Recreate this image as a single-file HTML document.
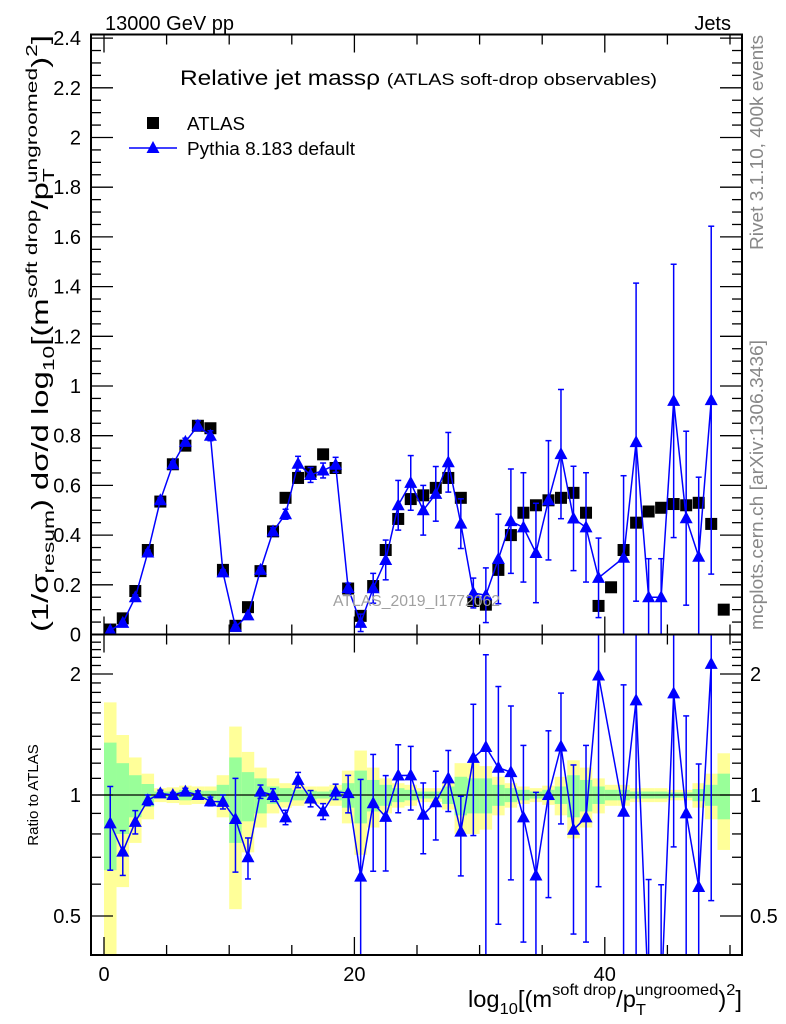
<!DOCTYPE html>
<html><head><meta charset="utf-8">
<style>
html,body{margin:0;padding:0;background:#fff;overflow:hidden;width:786px;height:1024px;}
svg{display:block;font-family:"Liberation Sans",Arial,sans-serif;}
</style></head>
<body>
<svg id="chart" width="786" height="1024" viewBox="0 0 786 1024" xmlns="http://www.w3.org/2000/svg">
<defs>
<clipPath id="clipMain"><rect x="91" y="34.5" width="651" height="600"/></clipPath>
<clipPath id="clipRatio"><rect x="91" y="634.5" width="651" height="320.5"/></clipPath>
</defs>
<g id="bands" clip-path="url(#clipRatio)"></g>
<g id="grid"></g>
<g id="mainMarks" clip-path="url(#clipMain)"></g>
<g id="ratioMarks" clip-path="url(#clipRatio)"></g>
<g id="axes"></g>

<text x="105" y="30" font-size="20">13000 GeV pp</text>
<text x="731" y="30" font-size="20" text-anchor="end">Jets</text>
<text x="180" y="85" font-size="21" textLength="477" lengthAdjust="spacingAndGlyphs">Relative jet massρ <tspan font-size="17">(ATLAS soft-drop observables)</tspan></text>

<g>
<rect x="147" y="117" width="12" height="12" fill="#000"/>
<text x="187" y="130" font-size="18.5" textLength="58" lengthAdjust="spacingAndGlyphs">ATLAS</text>
<line x1="129" y1="148" x2="177" y2="148" stroke="#0000ff" stroke-width="1.5"/>
<polygon points="153,141 146.5,153 159.5,153" fill="#0000ff"/>
<text x="187" y="155" font-size="18.5" textLength="168" lengthAdjust="spacingAndGlyphs">Pythia 8.183 default</text>
</g>

<text x="333" y="606" font-size="16" fill="#a0a0a0" textLength="167" lengthAdjust="spacingAndGlyphs">ATLAS_2019_I1772062</text>

<text transform="translate(763,250) rotate(-90)" font-size="18" fill="#888" textLength="215" lengthAdjust="spacingAndGlyphs">Rivet 3.1.10,  400k events</text>
<text transform="translate(763,630) rotate(-90)" font-size="18" fill="#888" textLength="290" lengthAdjust="spacingAndGlyphs">mcplots.cern.ch [arXiv:1306.3436]</text>

<text transform="translate(48,632) rotate(-90)" font-size="23" textLength="597" lengthAdjust="spacingAndGlyphs">(1/σ<tspan font-size="16" dy="6">resum</tspan><tspan dy="-6">) dσ/d log</tspan><tspan font-size="16" dy="6">10</tspan><tspan dy="-6">[(m</tspan><tspan font-size="16" dy="-11">soft drop</tspan><tspan dy="11">/p</tspan><tspan font-size="16" dy="6">T</tspan><tspan font-size="16" dx="-10" dy="-17">ungroomed</tspan><tspan dy="11">)</tspan><tspan font-size="16" dy="-11">2</tspan><tspan dy="11">]</tspan></text>
<text transform="translate(38,795) rotate(-90)" font-size="15" text-anchor="middle">Ratio to ATLAS</text>

<text x="468" y="1007" font-size="23" textLength="274" lengthAdjust="spacingAndGlyphs">log<tspan font-size="16" dy="7">10</tspan><tspan dy="-7">[(m</tspan><tspan font-size="16" dy="-12">soft drop</tspan><tspan dy="12">/p</tspan><tspan font-size="16" dy="8">T</tspan><tspan font-size="16" dx="-10" dy="-20">ungroomed</tspan><tspan dy="12">)</tspan><tspan font-size="16" dy="-12">2</tspan><tspan dy="12">]</tspan></text>
</svg>

<script>
const atlasValues = [0.02,0.065,0.175,0.34,0.535,0.685,0.76,0.84,0.83,0.26,0.035,0.11,0.255,0.415,0.55,0.63,0.655,0.725,0.67,0.185,0.075,0.195,0.34,0.465,0.545,0.56,0.59,0.63,0.55,0.135,0.12,0.26,0.4,0.49,0.52,0.54,0.55,0.57,0.49,0.115,0.19,0.34,0.45,0.495,0.51,0.525,0.52,0.53,0.445,0.10];
const pythiaValues = [0.017,0.047,0.15,0.33,0.54,0.685,0.775,0.84,0.80,0.25,0.0305,0.077,0.26,0.415,0.484,0.687,0.642,0.66,0.683,0.187,0.047,0.186,0.30,0.52,0.61,0.50,0.566,0.693,0.446,0.167,0.158,0.304,0.456,0.431,0.328,0.54,0.726,0.467,0.431,0.228,null,0.309,0.774,0.15,0.15,0.94,0.468,0.313,0.943,null];
const pythiaErrors = [0.004,0.006,0.01,0.01,0.01,0.01,0.015,0.02,0.02,0.01,0.008,0.009,0.01,0.015,0.02,0.03,0.03,0.03,0.03,0.02,0.035,0.06,0.08,0.1,0.11,0.1,0.11,0.12,0.1,0.06,0.11,0.18,0.21,0.22,0.2,0.24,0.26,0.21,0.22,0.16,null,0.33,0.64,0.155,0.155,0.55,0.35,0.32,0.7,null];
const totalUnc = [0.7,0.41,0.24,0.13,0.04,0.045,0.055,0.05,0.05,0.12,0.48,0.28,0.17,0.1,0.07,0.06,0.05,0.05,0.06,0.15,0.29,0.17,0.1,0.07,0.06,0.04,0.04,0.08,0.2,0.2,0.18,0.11,0.07,0.05,0.04,0.055,0.11,0.22,0.17,0.1,0.06,0.06,0.04,0.04,0.04,0.03,0.03,0.07,0.13,0.27];
const statUnc = [0.35,0.2,0.12,0.065,0.02,0.02,0.03,0.025,0.025,0.06,0.24,0.14,0.1,0.05,0.04,0.03,0.025,0.02,0.03,0.07,0.15,0.09,0.06,0.04,0.03,0.02,0.02,0.05,0.11,0.1,0.1,0.06,0.04,0.03,0.02,0.03,0.05,0.12,0.09,0.05,0.03,0.03,0.02,0.02,0.02,0.015,0.015,0.035,0.06,0.13];
const xTickLabels = [0,20,40];
const yTickLabels = [0,0.2,0.4,0.6,0.8,1,1.2,1.4,1.6,1.8,2,2.2,2.4];
const ratioTickLabels = [0.5,1,2];

const NS = "http://www.w3.org/2000/svg";
const X0 = 104, XS = 12.52;
const L = 91, R = 742, TOP = 34.5, MID = 634.5, BOT = 955;
function xPos(v){ return X0 + v*XS; }
function yMain(v){ return 634.5 - v*248.5; }
function yRatio(r){ return 795 - 121*Math.log2(r); }
function el(tag, attrs, parent){
  const e = document.createElementNS(NS, tag);
  for (const k in attrs) e.setAttribute(k, attrs[k]);
  parent.appendChild(e);
  return e;
}
const bands = document.getElementById('bands');
const mainG = document.getElementById('mainMarks');
const ratioG = document.getElementById('ratioMarks');
const axes = document.getElementById('axes');
const BLUE = '#0000ff';

totalUnc.forEach((u,i)=>{
  const r = el('rect',{x:xPos(i), y:yRatio(1+u), width:XS, height:Math.max(0,yRatio(Math.max(1-u,0.3))-yRatio(1+u)), fill:'#ffff99'}, bands);
  
  
});
statUnc.forEach((u,i)=>{
  const r = el('rect',{x:xPos(i), y:yRatio(1+u), width:XS, height:yRatio(1-u)-yRatio(1+u), fill:'#99ff99'}, bands);
  
  
});
const one = el('line',{x1:L,x2:R,y1:yRatio(1),y2:yRatio(1),stroke:'#000','stroke-width':1.2}, bands);



function tri(cx, cy, parent, name){
  const p = el('polygon',{points:`${cx},${cy-7} ${cx-6.5},${cy+5} ${cx+6.5},${cy+5}`, fill:BLUE}, parent);
  
  
}
function errBar(cx, y1, y2, parent, name){
  const g = el('g',{stroke:BLUE,'stroke-width':1.5}, parent);
  
  
  el('line',{x1:cx,x2:cx,y1:y1,y2:y2}, g);
  el('line',{x1:cx-3,x2:cx+3,y1:y1,y2:y1}, g);
  el('line',{x1:cx-3,x2:cx+3,y1:y2,y2:y2}, g);
}

atlasValues.forEach((v,i)=>{
  const cx = xPos(i+0.5), cy = yMain(v);
  const r = el('rect',{x:cx-6, y:cy-6, width:12, height:12, fill:'#000'}, mainG);
  
  
});
let pts = [], rpts = [];
pythiaValues.forEach((v,i)=>{
  if (v===null) return;
  pts.push(`${xPos(i+0.5)},${yMain(v)}`);
  rpts.push(`${xPos(i+0.5)},${Math.min(yRatio(v/atlasValues[i]),1000)}`);
});
const pl = el('polyline',{points:pts.join(' '), fill:'none', stroke:BLUE, 'stroke-width':1.5}, mainG);


const rpl = el('polyline',{points:rpts.join(' '), fill:'none', stroke:BLUE, 'stroke-width':1.5}, ratioG);


pythiaValues.forEach((v,i)=>{
  if (v===null) return;
  const cx = xPos(i+0.5), e = pythiaErrors[i];
  errBar(cx, yMain(v+e), yMain(Math.max(v-e,0)), mainG, 'pythia-error-bar');
  tri(cx, yMain(v), mainG, 'pythia-point');
  const a = atlasValues[i];
  const lo = (v-e)/a;
  errBar(cx, yRatio((v+e)/a), lo>0.3 ? yRatio(lo) : 1000, ratioG, 'pythia-ratio-error-bar');
  tri(cx, yRatio(v/a), ratioG, 'pythia-ratio-point');
});

[[TOP,MID],[MID,BOT]].forEach(([t,b],k)=>{
  const f = el('rect',{x:L,y:t,width:R-L,height:b-t,fill:'none',stroke:'#000','stroke-width':2}, axes);
  
  
});
const tk = el('g',{stroke:'#000','stroke-width':1.3}, axes);


for (let v=0; v<=50; v+=5){
  const x = xPos(v), len = (v%20===0)?18:10;
  el('line',{x1:x,x2:x,y1:TOP,y2:TOP+len}, tk);
  el('line',{x1:x,x2:x,y1:MID,y2:MID-len}, tk);
  el('line',{x1:x,x2:x,y1:MID,y2:MID+len}, tk);
  el('line',{x1:x,x2:x,y1:BOT,y2:BOT-len}, tk);
}
for (let k=0; k<=48; k++){
  const v = k*0.05, y = yMain(v);
  if (y < TOP) continue;
  const len = (k%4===0)?22:10;
  el('line',{x1:L,x2:L+len,y1:y,y2:y}, tk);
  el('line',{x1:R,x2:R-len,y1:y,y2:y}, tk);
}
yTickLabels.forEach(v=>{
  const t = el('text',{x:81, y:yMain(v)+7, 'font-size':20, 'text-anchor':'end'}, axes);
  t.textContent = String(v);
  
  
});
for (let k=4; k<=24; k++){
  const r = k/10, y = yRatio(r);
  if (y < MID || y > BOT) continue;
  const len = (k===5||k===10||k===20)?22:10;
  el('line',{x1:L,x2:L+len,y1:y,y2:y}, tk);
  el('line',{x1:R,x2:R-len,y1:y,y2:y}, tk);
}
ratioTickLabels.forEach(v=>{
  const t = el('text',{x:81, y:yRatio(v)+7, 'font-size':20, 'text-anchor':'end'}, axes);
  t.textContent = String(v);
  
  
  const t2 = el('text',{x:750, y:yRatio(v)+7, 'font-size':20}, axes);
  t2.textContent = String(v);
  
  
});
xTickLabels.forEach(v=>{
  const t = el('text',{x:xPos(v), y:981, 'font-size':20, 'text-anchor':'middle'}, axes);
  t.textContent = String(v);
  
  
});
</script>
</body></html>
